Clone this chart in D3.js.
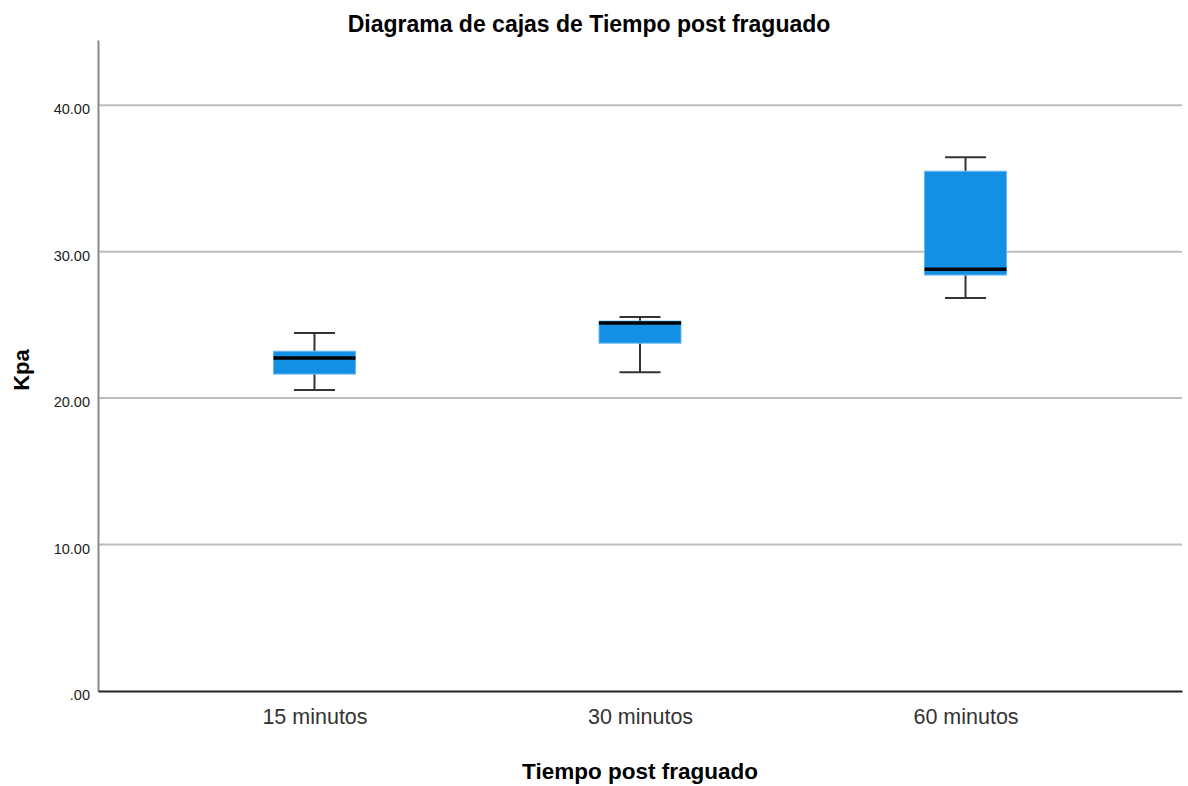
<!DOCTYPE html>
<html>
<head>
<meta charset="utf-8">
<script src="https://cdn.jsdelivr.net/npm/d3@7"></script>
<style>
  body { margin: 0; background: #fff; }
  text { font-family: "Liberation Sans", Arial, sans-serif; }
</style>
</head>
<body>
<div id="chart"></div>
<script>
"use strict"

// categories and five-number summaries
const categories = ["15 minutos", "30 minutos", "60 minutos"];
const whiskerLow = [20.55, 21.77, 26.83];
const q1 = [21.64, 23.75, 28.40];
const median = [22.73, 25.12, 28.80];
const q3 = [23.20, 25.26, 35.49];
const whiskerHigh = [24.44, 25.53, 36.45];
const yTicks = [0, 10, 20, 30, 40];

const width = 1188, height = 786;
const margin = { top: 40, right: 6, bottom: 95, left: 98 };

let svg = d3.select("#chart").append("svg")
    .attr("width", width)
    .attr("height", height);

let x = d3.scalePoint()
    .domain(categories)
    .range([margin.left, width - margin.right])
    .padding(0.665);

let y = d3.scaleLinear()
    .domain([0, 44.45])
    .range([height - margin.bottom, margin.top]);

// gridlines
svg.append("g")
    .selectAll("line")
    .data(yTicks.filter(d => d > 0))
    .join("line")
    .attr("x1", margin.left)
    .attr("x2", width - margin.right)
    .attr("y1", d => y(d))
    .attr("y2", d => y(d))
    .style("stroke", "#bdbdbd")
    .style("stroke-width", 2);

// y axis
let yAxis = svg.append("g")
    .attr("transform", "translate(" + margin.left + ",0)")
    .call(d3.axisLeft(y).tickValues(yTicks).tickSize(0).tickPadding(8)
        .tickFormat(d => d === 0 ? ".00" : d3.format(".2f")(d)));
yAxis.select(".domain").style("stroke", "#8a8a8a").style("stroke-width", 2);
yAxis.selectAll("text")
    .attr("dy", "0.6em")
    .style("font-size", "14.5px")
    .style("fill", "#222");

// x axis
let xAxis = svg.append("g")
    .attr("transform", "translate(0," + (height - margin.bottom) + ")")
    .call(d3.axisBottom(x).tickSize(0).tickPadding(18));
xAxis.select(".domain").style("stroke", "#222").style("stroke-width", 2);
xAxis.selectAll("text")
    .style("font-size", "21.5px")
    .style("fill", "#333");

// boxes
let boxWidth = 82, capWidth = 41;
let boxes = svg.append("g")
    .selectAll("g")
    .data(categories.map((c, i) => ({
        cat: c, lo: whiskerLow[i], q1: q1[i], med: median[i], q3: q3[i], hi: whiskerHigh[i]
    })))
    .join("g")
    .attr("transform", d => "translate(" + x(d.cat) + ",0)");

boxes.append("line")
    .attr("y1", d => y(d.hi))
    .attr("y2", d => y(d.q3))
    .style("stroke", "#333")
    .style("stroke-width", 2);
boxes.append("line")
    .attr("y1", d => y(d.q1))
    .attr("y2", d => y(d.lo))
    .style("stroke", "#333")
    .style("stroke-width", 2);
boxes.append("line")
    .attr("x1", -capWidth / 2)
    .attr("x2", capWidth / 2)
    .attr("y1", d => y(d.hi))
    .attr("y2", d => y(d.hi))
    .style("stroke", "#333")
    .style("stroke-width", 2);
boxes.append("line")
    .attr("x1", -capWidth / 2)
    .attr("x2", capWidth / 2)
    .attr("y1", d => y(d.lo))
    .attr("y2", d => y(d.lo))
    .style("stroke", "#333")
    .style("stroke-width", 2);

boxes.append("rect")
    .attr("x", -boxWidth / 2)
    .attr("width", boxWidth)
    .attr("y", d => y(d.q3))
    .attr("height", d => y(d.q1) - y(d.q3))
    .style("fill", "#1390e3")
    .style("stroke", "#6ab8f0")
    .style("stroke-width", 1);

boxes.append("line")
    .attr("x1", -boxWidth / 2)
    .attr("x2", boxWidth / 2)
    .attr("y1", d => y(d.med))
    .attr("y2", d => y(d.med))
    .style("stroke", "#000")
    .style("stroke-width", 3.5);

// titles
svg.append("text")
    .attr("x", 589)
    .attr("y", 32)
    .attr("text-anchor", "middle")
    .style("font-size", "23px")
    .style("font-weight", "bold")
    .text("Diagrama de cajas de Tiempo post fraguado");

svg.append("text")
    .attr("x", 640)
    .attr("y", 779)
    .attr("text-anchor", "middle")
    .style("font-size", "22.5px")
    .style("font-weight", "bold")
    .text("Tiempo post fraguado");

svg.append("text")
    .attr("transform", "translate(29,370) rotate(-90)")
    .attr("text-anchor", "middle")
    .style("font-size", "22px")
    .style("font-weight", "bold")
    .text("Kpa");
</script>
</body>
</html>
